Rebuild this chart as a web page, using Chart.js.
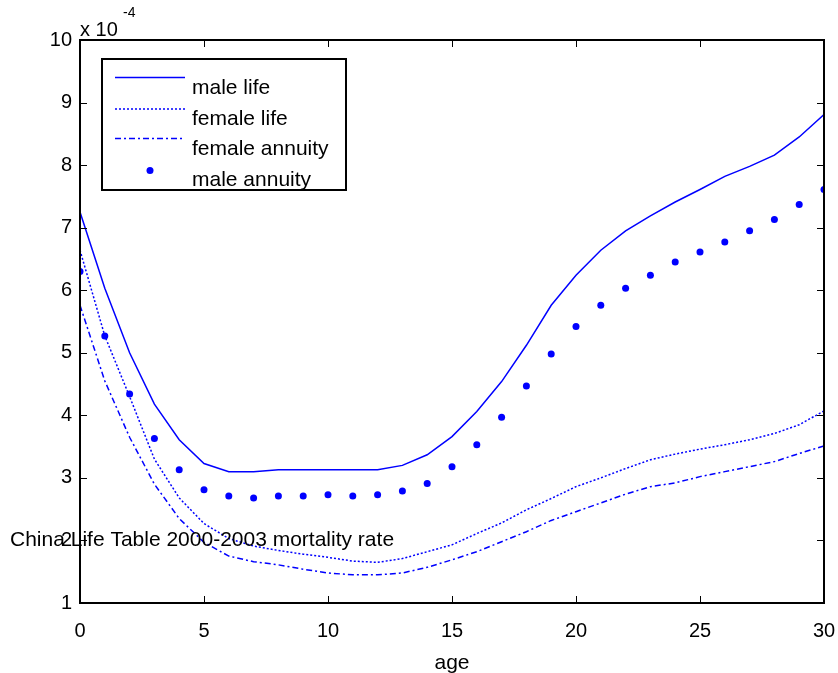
<!DOCTYPE html>
<html>
<head>
<meta charset="utf-8">
<script src="https://cdn.jsdelivr.net/npm/chart.js@4"></script>
<style>
  html, body { margin: 0; padding: 0; background: #fff; }
  #wrap { width: 838px; height: 673px; }
</style>
</head>
<body>
<div id="wrap"><canvas id="c"></canvas></div>
<script>
// mortality rates, units of 1e-4
const ages = [0,1,2,3,4,5,6,7,8,9,10,11,12,13,14,15,16,17,18,19,20,21,22,23,24,25,26,27,28,29,30];
const maleLife = [7.25,6.03,5.0,4.18,3.61,3.23,3.10,3.10,3.13,3.13,3.13,3.13,3.13,3.2,3.37,3.66,4.06,4.54,5.12,5.76,6.24,6.64,6.95,7.19,7.41,7.61,7.82,7.98,8.16,8.45,8.81];
const femaleLife = [6.64,5.27,4.3,3.3,2.68,2.27,2.03,1.91,1.84,1.78,1.73,1.67,1.65,1.71,1.82,1.93,2.11,2.28,2.49,2.67,2.86,3.0,3.15,3.29,3.38,3.46,3.53,3.61,3.71,3.85,4.07];
const femaleAnnuity = [5.76,4.55,3.65,2.9,2.35,1.97,1.75,1.66,1.61,1.54,1.48,1.45,1.45,1.48,1.57,1.69,1.82,1.98,2.14,2.32,2.46,2.6,2.74,2.86,2.92,3.02,3.1,3.18,3.26,3.39,3.51];
const maleAnnuity = [6.30,5.27,4.34,3.63,3.13,2.81,2.71,2.68,2.71,2.71,2.73,2.71,2.73,2.79,2.91,3.18,3.53,3.97,4.47,4.98,5.42,5.76,6.03,6.24,6.45,6.61,6.77,6.95,7.13,7.37,7.61];
const seriesNames = ['male life', 'female life', 'female annuity', 'male annuity'];
const xTicks = [0,5,10,15,20,25,30];
const yTicks = [1,2,3,4,5,6,7,8,9,10];

const FONT = '"Liberation Sans", Arial, sans-serif';
const BLUE = '#0000ff';

function pts(vals) { return ages.map((a, i) => ({ x: a, y: vals[i] })); }

// frame, inward ticks, legend and texts
const decor = {
  id: 'decor',
  afterDraw(chart) {
    const ctx = chart.ctx;
    const a = chart.chartArea;
    const xs = chart.scales.x, ys = chart.scales.y;
    ctx.save();
    ctx.strokeStyle = '#000';
    ctx.lineWidth = 1;
    ctx.beginPath();
    xTicks.forEach(t => {
      const px = Math.round(xs.getPixelForValue(t)) + 0.5;
      ctx.moveTo(px, a.bottom); ctx.lineTo(px, a.bottom - 7);
      ctx.moveTo(px, a.top); ctx.lineTo(px, a.top + 7);
    });
    yTicks.forEach(t => {
      const py = Math.round(ys.getPixelForValue(t)) + 0.5;
      ctx.moveTo(a.left, py); ctx.lineTo(a.left + 7, py);
      ctx.moveTo(a.right, py); ctx.lineTo(a.right - 7, py);
    });
    ctx.stroke();
    ctx.lineWidth = 2;
    ctx.strokeRect(a.left, a.top, a.right - a.left, a.bottom - a.top);

    // legend box
    const lx = a.left + 22, ly = a.top + 19, lw = 244, lh = 131;
    ctx.fillStyle = '#fff';
    ctx.fillRect(lx, ly, lw, lh);
    ctx.lineWidth = 2;
    ctx.strokeRect(lx, ly, lw, lh);
    const rows = [18, 49.5, 79, 111];
    const base = [35, 66, 96, 127];
    chart.data.datasets.forEach((ds, i) => {
      const y = ly + rows[i] + 0.5;
      ctx.strokeStyle = ds.borderColor;
      ctx.fillStyle = ds.borderColor;
      if (ds.showLine === false) {
        ctx.beginPath();
        ctx.arc(lx + 48, y, ds.pointRadius, 0, Math.PI * 2);
        ctx.fill();
      } else {
        ctx.lineWidth = ds.borderWidth;
        ctx.setLineDash(ds.borderDash || []);
        ctx.beginPath();
        ctx.moveTo(lx + 13, y); ctx.lineTo(lx + 83, y);
        ctx.stroke();
        ctx.setLineDash([]);
      }
      ctx.fillStyle = '#000';
      ctx.font = '21px ' + FONT;
      ctx.textAlign = 'left';
      ctx.textBaseline = 'alphabetic';
      ctx.fillText(ds.label, lx + 90, ly + base[i]);
    });

    // exponent label
    ctx.fillStyle = '#000';
    ctx.font = '20px ' + FONT;
    ctx.fillText('x 10', a.left, a.top - 4);
    ctx.font = '14px ' + FONT;
    ctx.fillText('-4', a.left + 43, a.top - 23);

    // annotation text
    ctx.font = '21px ' + FONT;
    ctx.fillText('China Life Table 2000-2003 mortality rate', 10, 546);
    ctx.restore();
  }
};

new Chart(document.getElementById('c'), {
  type: 'line',
  data: {
    datasets: [
      { label: seriesNames[0], data: pts(maleLife), borderColor: BLUE, borderWidth: 1.5, pointRadius: 0, fill: false },
      { label: seriesNames[1], data: pts(femaleLife), borderColor: BLUE, borderWidth: 1.5, borderDash: [2, 2], pointRadius: 0, fill: false },
      { label: seriesNames[2], data: pts(femaleAnnuity), borderColor: BLUE, borderWidth: 1.5, borderDash: [6, 3, 2, 3], pointRadius: 0, fill: false },
      { label: seriesNames[3], data: pts(maleAnnuity), borderColor: BLUE, backgroundColor: BLUE, showLine: false, pointRadius: 3.5, pointBorderWidth: 0 }
    ]
  },
  options: {
    responsive: true,
    maintainAspectRatio: false,
    animation: false,
    layout: { padding: { top: 40, right: 14, left: 0, bottom: 0 } },
    plugins: { legend: { display: false }, tooltip: { enabled: false } },
    scales: {
      x: {
        type: 'linear', min: 0, max: 30,
        afterBuildTicks: s => { s.ticks = xTicks.map(v => ({ value: v })); },
        grid: { display: false, drawTicks: false },
        border: { display: false },
        ticks: { color: '#000', font: { family: FONT, size: 20 }, padding: 16, maxRotation: 0 },
        title: { display: true, text: 'age', color: '#000', font: { family: FONT, size: 21 }, padding: { top: 0, bottom: -3 } },
        afterFit: s => { s.height = 70; s.paddingLeft = 0; s.paddingRight = 0; }
      },
      y: {
        type: 'linear', min: 1, max: 10,
        afterBuildTicks: s => { s.ticks = yTicks.map(v => ({ value: v })); },
        grid: { display: false, drawTicks: false },
        border: { display: false },
        ticks: { color: '#000', font: { family: FONT, size: 20 }, padding: 8 },
        afterFit: s => { s.width = 80; s.paddingTop = 0; s.paddingBottom = 0; }
      }
    }
  },
  plugins: [decor]
});
</script>
</body>
</html>
